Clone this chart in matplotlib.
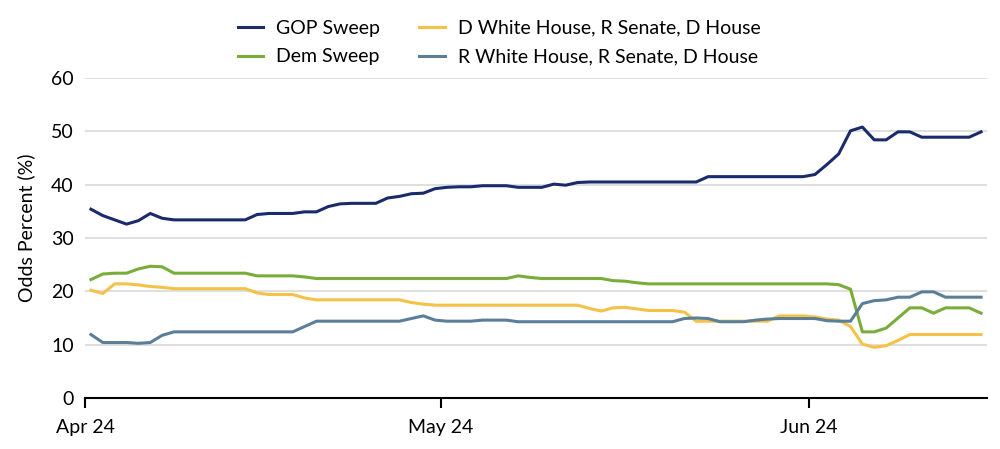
import datetime as dt

import matplotlib
matplotlib.use("Agg")
import matplotlib.pyplot as plt
import matplotlib.dates as mdates

plt.rcParams['font.family'] = ['Lato', 'DejaVu Sans']

start = dt.datetime(2024, 4, 1)

gop_sweep = [35.4, 34.2, 33.4, 32.6, 33.25, 34.6, 33.7,
             33.4, 33.4, 33.4, 33.4, 33.4, 33.4, 33.4,
             34.4, 34.6, 34.6, 34.6, 34.9, 34.9, 35.9, 36.4, 36.5, 36.5, 36.5,
             37.5, 37.8, 38.3, 38.4, 39.25, 39.5, 39.6, 39.6, 39.8, 39.8, 39.8,
             39.5, 39.5, 39.5, 40.1, 39.9, 40.4,
             40.5, 40.5, 40.5, 40.5, 40.5, 40.5, 40.5, 40.5, 40.5, 40.5,
             41.5, 41.5, 41.5, 41.5, 41.5, 41.5, 41.5, 41.5, 41.5,
             41.9, 43.75, 45.75, 50.1, 50.8, 48.4, 48.4, 49.9, 49.9,
             48.9, 48.9, 48.9, 48.9, 48.9, 49.9]

dem_sweep = [22.2, 23.25, 23.4, 23.4, 24.2, 24.7, 24.6,
             23.4, 23.4, 23.4, 23.4, 23.4, 23.4, 23.4,
             22.9, 22.9, 22.9, 22.9, 22.7,
             22.4, 22.4, 22.4, 22.4, 22.4, 22.4, 22.4, 22.4, 22.4, 22.4,
             22.4, 22.4, 22.4, 22.4, 22.4, 22.4, 22.4,
             22.9, 22.6, 22.4, 22.4, 22.4, 22.4, 22.4, 22.4,
             22.0, 21.9, 21.6,
             21.4, 21.4, 21.4, 21.4, 21.4, 21.4, 21.4, 21.4,
             21.4, 21.4, 21.4, 21.4, 21.4, 21.4, 21.4, 21.4,
             21.25, 20.4, 12.4, 12.4, 13.1, 15.0, 16.9, 16.9, 15.9,
             16.9, 16.9, 16.9, 15.9]

d_wh_r_sen_d_house = [20.2, 19.6, 21.4, 21.4, 21.2, 20.9, 20.75,
                      20.5, 20.5, 20.5, 20.5, 20.5, 20.5, 20.5,
                      19.7, 19.4, 19.4, 19.4, 18.75,
                      18.4, 18.4, 18.4, 18.4, 18.4, 18.4, 18.4, 18.4,
                      17.9, 17.6,
                      17.4, 17.4, 17.4, 17.4, 17.4, 17.4, 17.4, 17.4, 17.4,
                      17.4, 17.4, 17.4, 17.4,
                      16.8, 16.3, 16.9, 17.0, 16.7, 16.4, 16.4, 16.4, 16.1,
                      14.4, 14.4, 14.4, 14.4, 14.4, 14.4, 14.4,
                      15.4, 15.4, 15.4, 15.2, 14.8, 14.6, 13.4,
                      10.1, 9.5, 9.8, 10.8,
                      11.9, 11.9, 11.9, 11.9, 11.9, 11.9, 11.9]

r_wh_r_sen_d_house = [11.9, 10.4, 10.4, 10.4, 10.25, 10.4, 11.75,
                      12.4, 12.4, 12.4, 12.4, 12.4, 12.4, 12.4, 12.4, 12.4,
                      12.4, 12.4, 13.4,
                      14.4, 14.4, 14.4, 14.4, 14.4, 14.4, 14.4, 14.4,
                      14.9, 15.4, 14.6, 14.4, 14.4, 14.4, 14.6, 14.6, 14.6,
                      14.3, 14.3, 14.3, 14.3, 14.3, 14.3, 14.3, 14.3, 14.3,
                      14.3, 14.3, 14.3, 14.3, 14.3,
                      14.9, 15.0, 14.9, 14.3, 14.3, 14.3, 14.6, 14.8,
                      14.9, 14.9, 14.9, 14.9, 14.5, 14.4, 14.4,
                      17.7, 18.25, 18.4, 18.9, 18.9, 19.9, 19.9,
                      18.9, 18.9, 18.9, 18.9]

series = [
    ("GOP Sweep", gop_sweep, "#1b2a6b"),
    ("Dem Sweep", dem_sweep, "#78ad3a"),
    ("D White House, R Senate, D House", d_wh_r_sen_d_house, "#f4c247"),
    ("R White House, R Senate, D House", r_wh_r_sen_d_house, "#5b7f99"),
]

# points sit in the middle of each day
dates = [start + dt.timedelta(days=i, hours=12) for i in range(len(gop_sweep))]

fig = plt.figure(figsize=(10, 4.49), dpi=100)
ax = fig.add_axes([0.085, 0.1136, 0.902, 0.7127])

for name, vals, col in series:
    ax.plot(dates, vals, color=col, lw=2.2, label=name)

ax.set_ylim(0, 60)
ax.set_yticks(range(0, 61, 10))
ax.set_xlim(start, start + dt.timedelta(days=76))
ax.xaxis.set_major_locator(mdates.MonthLocator())
ax.xaxis.set_major_formatter(mdates.DateFormatter("%b %y"))

fs = 14
ax.grid(axis="y", color="#d9d9d9", lw=1.2)
ax.set_axisbelow(True)
for s in ["left", "right", "top"]:
    ax.spines[s].set_visible(False)
ax.spines["bottom"].set_color("black")
ax.spines["bottom"].set_linewidth(1.5)
ax.tick_params(axis="y", length=0, labelsize=fs, pad=8)
ax.tick_params(axis="x", length=7, width=1.5, labelsize=fs, pad=8)
ax.set_ylabel("Odds Percent (%)", fontsize=fs)
ax.yaxis.set_label_coords(-0.055, 0.533)

fig.legend(loc="upper left", bbox_to_anchor=(0.22, 0.995), ncol=2,
           frameon=False, fontsize=fs, handlelength=1.3,
           columnspacing=2.0, labelspacing=0.6, handletextpad=0.7)

fig.savefig("out.png", dpi=100)
